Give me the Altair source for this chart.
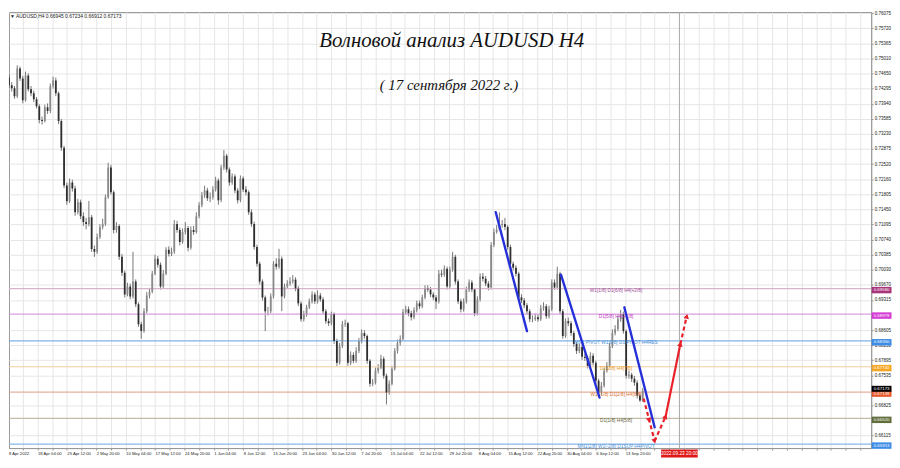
import altair as alt
import pandas as pd

# ---------------- data ----------------
# 12-hour candles drawn on an H4 bar index (3 H4 bars per candle)
FIRST_OPEN = 0.74560
CLOSES = [
    0.74375, 0.74305, 0.74119, 0.74773, 0.74539, 0.74025, 0.74609, 0.74282, 0.74189, 0.74049,
    0.73885, 0.73557, 0.73534, 0.73861, 0.73768, 0.74352, 0.74492, 0.74189, 0.73534, 0.72903,
    0.72015, 0.71642, 0.72085, 0.71945, 0.71384, 0.71618, 0.71290, 0.71151, 0.71104, 0.71267,
    0.70519, 0.70450, 0.70800, 0.71034, 0.71104, 0.71735, 0.72436, 0.71852, 0.70964, 0.71057,
    0.70333, 0.69959, 0.69445, 0.69631, 0.69398, 0.69748, 0.69211, 0.68744, 0.68580, 0.69047,
    0.69421, 0.69515, 0.69935, 0.70286, 0.70146, 0.69631, 0.69935, 0.70496, 0.70403, 0.70450,
    0.71104, 0.70964, 0.70683, 0.70917, 0.71011, 0.70543, 0.70964, 0.70917, 0.71290, 0.71548,
    0.71782, 0.71898, 0.71712, 0.71735, 0.71921, 0.72132, 0.71665, 0.72436, 0.72717, 0.72389,
    0.72085, 0.72225, 0.71898, 0.71665, 0.72179, 0.71921, 0.71852, 0.71384, 0.71104, 0.70566,
    0.70169, 0.69748, 0.69375, 0.69047, 0.69047, 0.69398, 0.70169, 0.70099, 0.70286, 0.69398,
    0.69631, 0.69701, 0.69748, 0.69795, 0.69584, 0.69234, 0.68860, 0.68977, 0.69141, 0.69281,
    0.69445, 0.69281, 0.69421, 0.69328, 0.69047, 0.68814, 0.68767, 0.68977, 0.68346, 0.67832,
    0.68229, 0.68744, 0.68767, 0.67832, 0.68019, 0.67879, 0.68113, 0.68346, 0.68533, 0.68463,
    0.67879, 0.67341, 0.67364, 0.67645, 0.67715, 0.67926, 0.67528, 0.67131, 0.67341, 0.67692,
    0.68113, 0.68299, 0.68393, 0.69024, 0.69094, 0.69000, 0.68907, 0.69071, 0.69234, 0.69164,
    0.69375, 0.69584, 0.69561, 0.69445, 0.69375, 0.69281, 0.69935, 0.69912, 0.70052, 0.69631,
    0.70029, 0.70333, 0.69748, 0.69281, 0.69094, 0.69281, 0.69561, 0.69725, 0.69561, 0.69000,
    0.69328, 0.69865, 0.69818, 0.69701, 0.69608, 0.70613, 0.70917, 0.70964, 0.71081, 0.71104,
    0.71034, 0.70566, 0.70169, 0.70076, 0.69935, 0.69375, 0.69305, 0.69187, 0.69047, 0.68860,
    0.68860, 0.68907, 0.68860, 0.69117, 0.69164, 0.68930, 0.69094, 0.69725, 0.69608, 0.69935,
    0.69047, 0.68463, 0.68814, 0.68767, 0.68533, 0.68276, 0.68113, 0.68206, 0.67973, 0.67949,
    0.67762, 0.67996, 0.67832, 0.67411, 0.67131, 0.67294, 0.67645, 0.67762, 0.68229, 0.68533,
    0.68627, 0.68860, 0.68977, 0.68580, 0.67528, 0.67551, 0.67458, 0.67364, 0.67061, 0.66945,
    0.67173,
]
HIGHS = [
    0.74650, 0.74450, 0.74360, 0.74850, 0.74820, 0.74600, 0.74700, 0.74660, 0.74360, 0.74250,
    0.74100, 0.73930, 0.73640, 0.73920, 0.73950, 0.74420, 0.74580, 0.74560, 0.74230, 0.73580,
    0.72950, 0.72080, 0.72180, 0.72150, 0.72010, 0.71700, 0.71680, 0.71380, 0.71250, 0.71650,
    0.71320, 0.70600, 0.70880, 0.71100, 0.71230, 0.71800, 0.72550, 0.72500, 0.71900, 0.71150,
    0.71100, 0.70400, 0.70010, 0.69720, 0.69700, 0.70450, 0.69800, 0.69260, 0.68800, 0.69120,
    0.69500, 0.69600, 0.70000, 0.70380, 0.70350, 0.70200, 0.70020, 0.70560, 0.70580, 0.70550,
    0.71200, 0.71180, 0.71020, 0.71000, 0.71150, 0.71060, 0.71050, 0.71060, 0.71380, 0.71620,
    0.71860, 0.72010, 0.71960, 0.71850, 0.72000, 0.72220, 0.72180, 0.72500, 0.72850, 0.72760,
    0.72440, 0.72300, 0.72280, 0.71950, 0.72250, 0.72230, 0.72000, 0.71900, 0.71450, 0.71160,
    0.70620, 0.70220, 0.69800, 0.69420, 0.69150, 0.69470, 0.70230, 0.70300, 0.70520, 0.70340,
    0.69700, 0.69780, 0.69850, 0.69900, 0.69850, 0.69640, 0.69280, 0.69060, 0.69200, 0.69350,
    0.69520, 0.69500, 0.69540, 0.69480, 0.69380, 0.69100, 0.68880, 0.69040, 0.69020, 0.68400,
    0.68300, 0.68820, 0.68850, 0.68800, 0.68100, 0.68080, 0.68200, 0.68420, 0.68620, 0.68600,
    0.68500, 0.67920, 0.67450, 0.67720, 0.67800, 0.68020, 0.67980, 0.67580, 0.67420, 0.67760,
    0.68180, 0.68380, 0.68480, 0.69100, 0.69180, 0.69160, 0.69060, 0.69140, 0.69300, 0.69300,
    0.69440, 0.69660, 0.69660, 0.69620, 0.69500, 0.69430, 0.70020, 0.70030, 0.70130, 0.70100,
    0.70100, 0.70450, 0.70380, 0.69800, 0.69340, 0.69350, 0.69630, 0.69800, 0.69780, 0.69600,
    0.69400, 0.69940, 0.69950, 0.69880, 0.69760, 0.70680, 0.71000, 0.71080, 0.71380, 0.71200,
    0.71250, 0.71080, 0.70620, 0.70220, 0.70130, 0.69980, 0.69450, 0.69360, 0.69240, 0.69100,
    0.68950, 0.69000, 0.68980, 0.69200, 0.69260, 0.69220, 0.69180, 0.69800, 0.69800, 0.70100,
    0.69980, 0.69100, 0.68880, 0.68900, 0.68820, 0.68580, 0.68330, 0.68290, 0.68260, 0.68050,
    0.68000, 0.68080, 0.68060, 0.67880, 0.67460, 0.67380, 0.67720, 0.67850, 0.68300, 0.68620,
    0.68720, 0.68950, 0.69080, 0.69040, 0.68620, 0.67650, 0.67600, 0.67520, 0.67420, 0.67100,
    0.67234,
]
LOWS = [
    0.74310, 0.74230, 0.74060, 0.74080, 0.74480, 0.73950, 0.73990, 0.74230, 0.74120, 0.73980,
    0.73830, 0.73480, 0.73450, 0.73500, 0.73700, 0.73720, 0.74300, 0.74120, 0.73460, 0.72830,
    0.71950, 0.71560, 0.71600, 0.71870, 0.71300, 0.71330, 0.71220, 0.71060, 0.70980, 0.71050,
    0.70450, 0.70330, 0.70400, 0.70750, 0.70980, 0.71060, 0.71700, 0.71800, 0.70880, 0.70900,
    0.70260, 0.69880, 0.69370, 0.69400, 0.69330, 0.69350, 0.69150, 0.68680, 0.68400, 0.68540,
    0.69000, 0.69350, 0.69470, 0.69900, 0.70080, 0.69560, 0.69580, 0.69900, 0.70340, 0.70350,
    0.70400, 0.70900, 0.70600, 0.70640, 0.70860, 0.70460, 0.70500, 0.70850, 0.70880, 0.71240,
    0.71500, 0.71720, 0.71650, 0.71620, 0.71680, 0.71870, 0.71560, 0.71620, 0.72380, 0.72320,
    0.72010, 0.72030, 0.71830, 0.71590, 0.71620, 0.71860, 0.71780, 0.71320, 0.71040, 0.70500,
    0.70100, 0.69680, 0.69300, 0.68580, 0.68950, 0.69000, 0.69350, 0.70030, 0.70050, 0.69050,
    0.69350, 0.69580, 0.69650, 0.69700, 0.69520, 0.69170, 0.68800, 0.68810, 0.68920, 0.69100,
    0.69230, 0.69220, 0.69230, 0.69270, 0.68980, 0.68750, 0.68700, 0.68720, 0.68280, 0.67760,
    0.67790, 0.68180, 0.68680, 0.67760, 0.67780, 0.67820, 0.67830, 0.68060, 0.68290, 0.68400,
    0.67810, 0.67270, 0.67280, 0.67320, 0.67580, 0.67680, 0.67460, 0.66850, 0.67080, 0.67300,
    0.67650, 0.68050, 0.68240, 0.68350, 0.68980, 0.68930, 0.68830, 0.68860, 0.69020, 0.69100,
    0.69120, 0.69330, 0.69500, 0.69380, 0.69310, 0.69100, 0.69230, 0.69850, 0.69860, 0.69560,
    0.69580, 0.69980, 0.69680, 0.69220, 0.69020, 0.69040, 0.69230, 0.69500, 0.69500, 0.68930,
    0.68950, 0.69280, 0.69750, 0.69640, 0.69540, 0.69560, 0.70560, 0.70880, 0.71000, 0.71020,
    0.70960, 0.70500, 0.70100, 0.70010, 0.69870, 0.69300, 0.69240, 0.69120, 0.68980, 0.68790,
    0.68790, 0.68820, 0.68800, 0.68820, 0.69060, 0.68870, 0.68880, 0.69050, 0.69550, 0.69560,
    0.68980, 0.68400, 0.68420, 0.68700, 0.68470, 0.68210, 0.68040, 0.68060, 0.67900, 0.67880,
    0.67700, 0.67720, 0.67770, 0.67340, 0.67050, 0.67080, 0.67250, 0.67600, 0.67720, 0.68180,
    0.68480, 0.68580, 0.68800, 0.68520, 0.67460, 0.67460, 0.67380, 0.67290, 0.66990, 0.66912,
    0.66912,
]
H4_PER_CANDLE = 3

HEADER_OHLC = [0.66945, 0.67234, 0.66912, 0.67173]

# Murrey-math levels
LEVEL_PRICES = [0.69580, 0.68979, 0.68350, 0.67740, 0.67139, 0.66520, 0.65913]
LEVEL_NAMES = [
    "W1[1/8] D1[6/8] H4[+2/8]",
    "D1[5/8] H4[+1/8]",
    "MN1 PIVOT W1[0/8] D1 PIVOT H4RES",
    "D1[3/8] H4[7/8]",
    "W1[-1/8] D1[2/8] H4[6/8]",
    "D1[1/8] H4[5/8]",
    "MN1[2/8] W1[-2/8] D1SUP H4PIVOT",
]
LEVEL_LINE_COLORS = ["#d8b4cc", "#d99ee0", "#7fb2ea", "#f2cf9c", "#e6b09e", "#c4bca8", "#86b6ea"]
LEVEL_TEXT_COLORS = ["#a0509a", "#c23cc2", "#4a90d8", "#e89a20", "#d87030", "#66683e", "#4a90d8"]
LEVEL_BADGE_COLORS = ["#a8347a", "#d43cd4", "#3c8ce6", "#f5a623", "#e8572a", "#626d3c", "#3c8ce6"]
LEVEL_LABEL_BAR = 662

CURRENT_PRICE = 0.67173

# forecast drawing (H4 bar index, price)
CHANNELS = [  # blue trend lines
    (531, 0.71384, 565, 0.68580),
    (602, 0.69912, 644, 0.67014),
    (671, 0.69141, 704, 0.66313),
]
RED_DASHED = [
    (692, 0.66991, 704, 0.65986),
    (704, 0.65986, 716, 0.66570),
    (732, 0.68276, 739, 0.68930),
]
RED_SOLID = [(716, 0.66570, 732, 0.68276)]
ARROW_HEADS = [  # bar, price, direction (deg, clockwise from up)
    (698, 0.66477, 166),
    (704, 0.65986, 166),
    (716, 0.66570, 24),
    (732, 0.68276, 12),
    (739, 0.68930, 14),
]

FUTURE_BAR = 731
FUTURE_LABEL = "2022.09.23 20:00"

X_LABELS = ["8 Apr 2022", "18 Apr 04:00", "25 Apr 12:00", "2 May 20:00", "10 May 04:00",
            "17 May 12:00", "24 May 20:00", "1 Jun 04:00", "8 Jun 12:00", "15 Jun 20:00",
            "23 Jun 04:00", "30 Jun 12:00", "7 Jul 20:00", "15 Jul 04:00", "22 Jul 12:00",
            "29 Jul 20:00", "8 Aug 04:00", "15 Aug 12:00", "22 Aug 20:00", "30 Aug 04:00",
            "6 Sep 12:00", "13 Sep 20:00"]
BARS_PER_LABEL = 32
# price scale labels (those hidden behind the level badges are not shown)
Y_TICKS = [0.76075, 0.75720, 0.75365, 0.75010, 0.74650, 0.74295, 0.73940, 0.73585, 0.73230,
           0.72875, 0.72520, 0.72160, 0.71805, 0.71450, 0.71095, 0.70740, 0.70385, 0.70030,
           0.69670, 0.69315, 0.68605, 0.68250, 0.67895, 0.67535, 0.66825, 0.66115]

TITLE = "Волновой анализ AUDUSD H4"
SUBTITLE = "( 17 сентября 2022 г.)"
TITLE_POS = (483, 0.75427)
SUBTITLE_POS = (480, 0.74375)

# ---------------- layout ----------------
W, H = 870, 440
X_DOMAIN = [6.4, 934.4]
Y_DOMAIN = [0.65822, 0.76105]
FONT = "Liberation Sans"
BADGE_SHIFT = 1.4

n = len(CLOSES)
opens = [FIRST_OPEN] + CLOSES[:-1]
opens[-1] = HEADER_OHLC[0]
candles = pd.DataFrame({
    "bar": [H4_PER_CANDLE * j + 1 for j in range(n)],
    "open": opens, "close": CLOSES, "high": HIGHS, "low": LOWS,
})
candles["dir"] = ["up" if c >= o else "down" for o, c in zip(candles["open"], candles["close"])]

xs = alt.Scale(domain=X_DOMAIN, nice=False, zero=False)
ys = alt.Scale(domain=Y_DOMAIN, nice=False, zero=False)

labels_js = "[" + ",".join("'%s'" % s for s in X_LABELS) + "]"
last_lab = BARS_PER_LABEL * (len(X_LABELS) - 1)
x_expr = (f"(datum.value % {BARS_PER_LABEL} == 0 && datum.value <= {last_lab}) ? "
          f"{labels_js}[datum.value / {BARS_PER_LABEL}] : ''")
x_axis = alt.Axis(values=list(range(16, 935, 16)), labelExpr=x_expr, title=None, grid=True,
                  gridColor="#e6e6e6", gridWidth=1, labelFont=FONT, labelFontSize=4.2,
                  labelColor="#222", labelAlign="left", labelPadding=2, tickSize=2,
                  tickColor="#999", domainColor="#999", labelOverlap=False, labelFlush=False)
y_axis = alt.Axis(orient="right", values=Y_TICKS, format=".5f", title=None, grid=True,
                  gridColor="#e6e6e6", gridWidth=1, labelFont=FONT, labelFontSize=4.6,
                  labelColor="#222", labelPadding=1, tickSize=2, tickColor="#999",
                  domainColor="#999", labelOverlap=False, labelFlush=False)


def X(f):
    return alt.X(f, scale=xs, axis=x_axis, title=None)


def Y(f):
    return alt.Y(f, scale=ys, axis=y_axis, title=None)


wicks = alt.Chart(candles).mark_rule(color="#555", strokeWidth=0.8, clip=True).encode(
    x=X("bar:Q"), y=Y("low:Q"), y2="high:Q")
bodies = alt.Chart(candles).mark_bar(size=1.8, clip=True).encode(
    x=X("bar:Q"), y=Y("open:Q"), y2="close:Q",
    color=alt.Color("dir:N", scale=alt.Scale(domain=["up", "down"], range=["#8a8a8a", "#2e2e2e"]),
                    legend=None))

levels = pd.DataFrame({
    "price": LEVEL_PRICES, "name": LEVEL_NAMES, "line": LEVEL_LINE_COLORS,
    "tcol": LEVEL_TEXT_COLORS, "badge": LEVEL_BADGE_COLORS,
    "bar": [LEVEL_LABEL_BAR] * len(LEVEL_PRICES),
})
levels["label"] = [f"{p:.5f}" for p in LEVEL_PRICES]

level_lines = alt.Chart(levels).mark_rule(strokeWidth=1.2).encode(
    y=Y("price:Q"), color=alt.Color("line:N", scale=None))
level_text = alt.Chart(levels).mark_text(font=FONT, fontSize=4.8, baseline="middle",
                                         align="center", dy=2.5).encode(
    x=X("bar:Q"), y=Y("price:Q"), text="name:N", color=alt.Color("tcol:N", scale=None))

vline = alt.Chart(pd.DataFrame({"bar": [FUTURE_BAR]})).mark_rule(
    color="#a8a8a8", strokeWidth=1).encode(x=X("bar:Q"))


def seg_df(rows):
    return pd.DataFrame(rows, columns=["b1", "p1", "b2", "p2"])


channels = alt.Chart(seg_df(CHANNELS)).mark_rule(color="#2630d8", strokeWidth=2.4,
                                                 strokeCap="round").encode(
    x=X("b1:Q"), x2="b2:Q", y=Y("p1:Q"), y2="p2:Q")
red_dash = alt.Chart(seg_df(RED_DASHED)).mark_rule(color="#e8202a", strokeWidth=2.2,
                                                   strokeDash=[4, 3]).encode(
    x=X("b1:Q"), x2="b2:Q", y=Y("p1:Q"), y2="p2:Q")
red_solid = alt.Chart(seg_df(RED_SOLID)).mark_rule(color="#e8202a", strokeWidth=2.2).encode(
    x=X("b1:Q"), x2="b2:Q", y=Y("p1:Q"), y2="p2:Q")
heads = alt.Chart(pd.DataFrame(ARROW_HEADS, columns=["bar", "price", "ang"])).mark_point(
    shape="triangle-up", filled=True, color="#e8202a", size=32, opacity=1).encode(
    x=X("bar:Q"), y=Y("price:Q"), angle=alt.Angle("ang:Q", scale=None))

titles = alt.Chart(pd.DataFrame({"bar": [TITLE_POS[0]], "price": [TITLE_POS[1]], "t": [TITLE]})
                   ).mark_text(font="Liberation Serif", fontStyle="italic", fontSize=21,
                               color="#111", baseline="middle").encode(
    x=X("bar:Q"), y=Y("price:Q"), text="t:N")
subtitle = alt.Chart(pd.DataFrame({"bar": [SUBTITLE_POS[0]], "price": [SUBTITLE_POS[1]],
                                   "t": [SUBTITLE]})
                     ).mark_text(font="Liberation Serif", fontStyle="italic", fontSize=15,
                                 color="#111", baseline="middle").encode(
    x=X("bar:Q"), y=Y("price:Q"), text="t:N")

header_txt = "▼ AUDUSD,H4  " + " ".join(f"{v:.5f}" for v in HEADER_OHLC)
header = alt.Chart(pd.DataFrame({"t": [header_txt]})).mark_text(
    font=FONT, fontSize=5, align="left", baseline="top", color="#222").encode(
    x=alt.value(1), y=alt.value(2), text="t:N")

first_date = alt.Chart(pd.DataFrame({"t": [X_LABELS[0]]})).mark_text(
    font=FONT, fontSize=4.2, align="left", baseline="top", color="#222", clip=False).encode(
    x=alt.value(0), y=alt.value(H + 4), text="t:N")

badges = alt.Chart(levels).mark_tick(orient="horizontal", size=20, thickness=6.5, opacity=1,
                                     clip=False, yOffset=BADGE_SHIFT).encode(
    x=alt.value(W + 10.5), y=Y("price:Q"), color=alt.Color("badge:N", scale=None))
badge_txt = alt.Chart(levels).mark_text(font=FONT, fontSize=4.4, color="white", align="center",
                                        baseline="middle", dy=BADGE_SHIFT, clip=False).encode(
    x=alt.value(W + 10.5), y=Y("price:Q"), text="label:N")

cur = pd.DataFrame({"price": [CURRENT_PRICE], "label": [f"{CURRENT_PRICE:.5f}"]})
cur_badge = alt.Chart(cur).mark_tick(orient="horizontal", size=20, thickness=6, opacity=1,
                                     color="#000", clip=False, yOffset=-2).encode(
    x=alt.value(W + 10.5), y=Y("price:Q"))
cur_txt = alt.Chart(cur).mark_text(font=FONT, fontSize=4.4, color="white", align="center",
                                   baseline="middle", dy=-2, clip=False).encode(
    x=alt.value(W + 10.5), y=Y("price:Q"), text="label:N")

fut = pd.DataFrame({"bar": [FUTURE_BAR], "t": [FUTURE_LABEL]})
fut_box = alt.Chart(fut).mark_tick(orient="horizontal", size=37, thickness=8, opacity=1,
                                   color="#e01818", clip=False).encode(
    x=X("bar:Q"), y=alt.value(H + 5.5))
fut_txt = alt.Chart(fut).mark_text(font=FONT, fontSize=4.8, color="white", align="center",
                                   baseline="middle", clip=False).encode(
    x=X("bar:Q"), y=alt.value(H + 5.5), text="t:N")

chart = alt.layer(
    wicks, level_lines, vline, bodies, level_text, channels, red_dash, red_solid, heads,
    titles, subtitle, header, first_date, badges, badge_txt, cur_badge, cur_txt, fut_box, fut_txt,
).properties(width=W, height=H, padding=0, background="white").configure_view(
    stroke="#999", strokeWidth=1)

chart.save("out.html", embed_options={"renderer": "svg", "actions": False})
